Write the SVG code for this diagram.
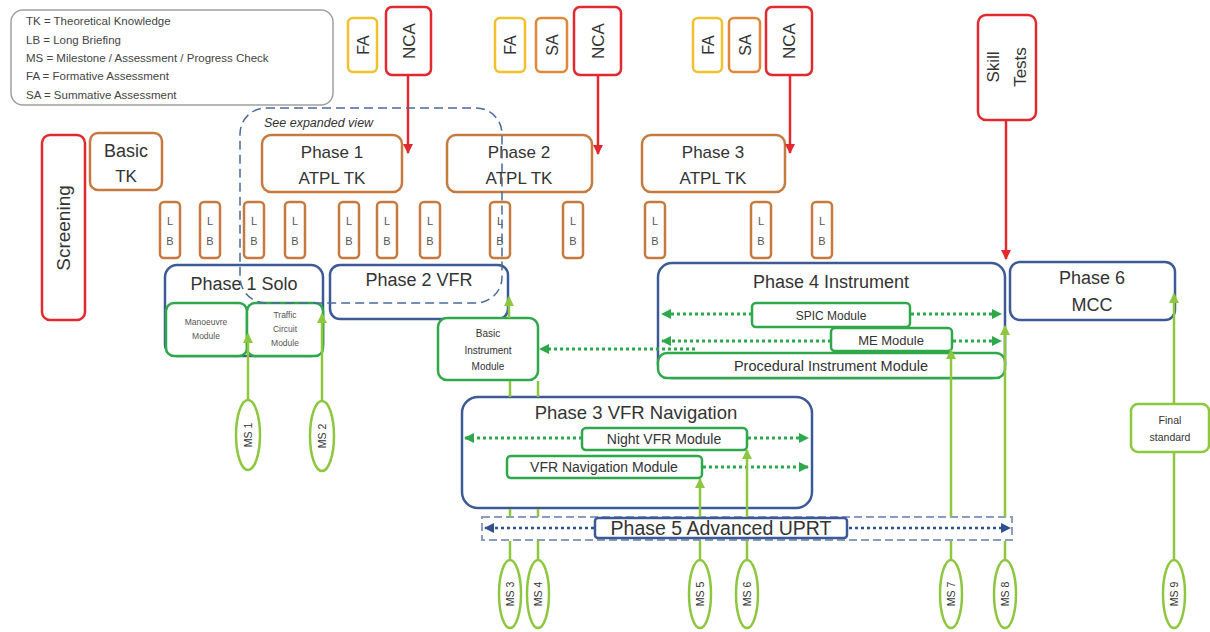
<svg xmlns="http://www.w3.org/2000/svg" width="1210" height="632" viewBox="0 0 1210 632">
<defs>
<style>
text{font-family:"Liberation Sans",Arial,sans-serif;fill:#333;text-anchor:middle}
.legend{font-size:11.5px;text-anchor:start;fill:#444}
.fa{fill:#fff;stroke:#f2c12e;stroke-width:2.5}
.sa{fill:#fff;stroke:#e0883a;stroke-width:2.5}
.red{fill:#fff;stroke:#e02a2f;stroke-width:2.5}
.tk{fill:#fff;stroke:#c57a40;stroke-width:2.5}
.ph{fill:#fff;stroke:#3d5a96;stroke-width:2.5}
.mod{fill:#fff;stroke:#2ea84a;stroke-width:2.5}
.ms{fill:#fff;stroke:#8dc63f;stroke-width:2.5}
.big{font-size:18px}
.lb{font-size:11px;fill:#555}
.sm{font-size:8.5px;fill:#555}
.msl{stroke:#8dc63f;stroke-width:2.5;fill:none}
.rl{stroke:#e02a2f;stroke-width:2.5;fill:none}
.gd{stroke:#2ea84a;stroke-width:3;stroke-dasharray:3 3;fill:none}
.bd{stroke:#2f4f8f;stroke-width:2.5;stroke-dasharray:3 3;fill:none}
</style>
<marker id="ar" viewBox="0 0 10 10" refX="9" refY="5" markerWidth="4" markerHeight="4" orient="auto"><path d="M0,0L10,5L0,10z" fill="#e02a2f"/></marker>
<marker id="ag" viewBox="0 0 10 10" refX="9" refY="5" markerWidth="3.5" markerHeight="3.5" orient="auto"><path d="M0,0L10,5L0,10z" fill="#2ea84a"/></marker>
<marker id="al" viewBox="0 0 10 10" refX="9" refY="5" markerWidth="4" markerHeight="4" orient="auto"><path d="M0,0L10,5L0,10z" fill="#8dc63f"/></marker>
<marker id="ab" viewBox="0 0 10 10" refX="9" refY="5" markerWidth="4" markerHeight="4" orient="auto"><path d="M0,0L10,5L0,10z" fill="#2f4f8f"/></marker>
</defs>
<rect width="1210" height="632" fill="#fff"/>

<g id="legend">
<rect x="11" y="10" width="322" height="95" rx="12" fill="#fff" stroke="#a0a0a0" stroke-width="1.5"/>
<text class="legend" x="26" y="25">TK = Theoretical Knowledge</text>
<text class="legend" x="26" y="44">LB = Long Briefing</text>
<text class="legend" x="26" y="62">MS = Milestone / Assessment / Progress Check</text>
<text class="legend" x="26" y="80">FA = Formative Assessment</text>
<text class="legend" x="26" y="99">SA = Summative Assessment</text>
</g>

<g id="fa1"><rect class="fa" x="348" y="18" width="29" height="54" rx="5"/><text transform="translate(368.5,45) rotate(-90)" font-size="16">FA</text></g>
<g id="nca1"><rect class="red" x="386" y="7" width="45" height="68" rx="6"/><text transform="translate(414.5,41) rotate(-90)" font-size="17">NCA</text></g>
<g id="fa2"><rect class="fa" x="495" y="18" width="30" height="54" rx="5"/><text transform="translate(516,45) rotate(-90)" font-size="16">FA</text></g>
<g id="sa2"><rect class="sa" x="536" y="18" width="31" height="54" rx="5"/><text transform="translate(557.5,45) rotate(-90)" font-size="16">SA</text></g>
<g id="nca2"><rect class="red" x="574" y="7" width="47" height="68" rx="6"/><text transform="translate(603.5,41) rotate(-90)" font-size="17">NCA</text></g>
<g id="fa3"><rect class="fa" x="693" y="18" width="29" height="54" rx="5"/><text transform="translate(713.5,45) rotate(-90)" font-size="16">FA</text></g>
<g id="sa3"><rect class="sa" x="729" y="18" width="31" height="54" rx="5"/><text transform="translate(750.5,45) rotate(-90)" font-size="16">SA</text></g>
<g id="nca3"><rect class="red" x="766" y="7" width="46" height="68" rx="6"/><text transform="translate(795,41) rotate(-90)" font-size="17">NCA</text></g>
<g id="skill"><rect class="red" x="978" y="15" width="58" height="105" rx="8"/><text transform="translate(999,67) rotate(-90)" font-size="17">Skill</text><text transform="translate(1026,67) rotate(-90)" font-size="17">Tests</text></g>

<g id="screening"><rect class="red" x="42" y="135" width="43" height="185" rx="8"/><text transform="translate(70,228) rotate(-90)" font-size="19">Screening</text></g>
<g id="basictk"><rect class="tk" x="90" y="133" width="72" height="57" rx="8"/><text class="big" x="126" y="157" font-size="17">Basic</text><text x="126" y="182" font-size="17">TK</text></g>
<g id="atpl1"><rect class="tk" x="262" y="135" width="140" height="57" rx="9"/><text x="332" y="158" font-size="17">Phase 1</text><text x="332" y="184" font-size="17">ATPL TK</text></g>
<g id="atpl2"><rect class="tk" x="447" y="135" width="145" height="57" rx="9"/><text x="519" y="158" font-size="17">Phase 2</text><text x="519" y="184" font-size="17">ATPL TK</text></g>
<g id="atpl3"><rect class="tk" x="642" y="135" width="143" height="57" rx="9"/><text x="713" y="158" font-size="17">Phase 3</text><text x="713" y="184" font-size="17">ATPL TK</text></g>

<g id="lbs">
<g id="lb1"><rect class="tk" x="160" y="202" width="20" height="56" rx="4"/><text class="lb" x="170" y="225">L</text><text class="lb" x="170" y="245">B</text></g>
<g id="lb2"><rect class="tk" x="200" y="202" width="20" height="56" rx="4"/><text class="lb" x="210" y="225">L</text><text class="lb" x="210" y="245">B</text></g>
<g id="lb3"><rect class="tk" x="244" y="202" width="20" height="56" rx="4"/><text class="lb" x="254" y="225">L</text><text class="lb" x="254" y="245">B</text></g>
<g id="lb4"><rect class="tk" x="285" y="202" width="20" height="56" rx="4"/><text class="lb" x="295" y="225">L</text><text class="lb" x="295" y="245">B</text></g>
<g id="lb5"><rect class="tk" x="339" y="202" width="20" height="56" rx="4"/><text class="lb" x="349" y="225">L</text><text class="lb" x="349" y="245">B</text></g>
<g id="lb6"><rect class="tk" x="377" y="202" width="20" height="56" rx="4"/><text class="lb" x="387" y="225">L</text><text class="lb" x="387" y="245">B</text></g>
<g id="lb7"><rect class="tk" x="420" y="202" width="20" height="56" rx="4"/><text class="lb" x="430" y="225">L</text><text class="lb" x="430" y="245">B</text></g>
<g id="lb8"><rect class="tk" x="490" y="202" width="20" height="56" rx="4"/><text class="lb" x="500" y="225">L</text><text class="lb" x="500" y="245">B</text></g>
<g id="lb9"><rect class="tk" x="563" y="202" width="20" height="56" rx="4"/><text class="lb" x="573" y="225">L</text><text class="lb" x="573" y="245">B</text></g>
<g id="lb10"><rect class="tk" x="645" y="202" width="20" height="56" rx="4"/><text class="lb" x="655" y="225">L</text><text class="lb" x="655" y="245">B</text></g>
<g id="lb11"><rect class="tk" x="751" y="202" width="20" height="56" rx="4"/><text class="lb" x="761" y="225">L</text><text class="lb" x="761" y="245">B</text></g>
<g id="lb12"><rect class="tk" x="812" y="202" width="20" height="56" rx="4"/><text class="lb" x="822" y="225">L</text><text class="lb" x="822" y="245">B</text></g>
</g>

<g id="phase1solo"><rect class="ph" x="165" y="265" width="158" height="91" rx="12"/><text class="big" x="244" y="290">Phase 1 Solo</text></g>
<g id="manoeuvre"><rect class="mod" x="166" y="303" width="81" height="53" rx="8"/><text class="sm" x="206" y="325">Manoeuvre</text><text class="sm" x="206" y="339">Module</text></g>
<g id="traffic"><rect class="mod" x="247" y="303" width="76" height="53" rx="8"/><text class="sm" x="285" y="318">Traffic</text><text class="sm" x="285" y="332">Circuit</text><text class="sm" x="285" y="346">Module</text></g>
<g id="phase2vfr"><rect class="ph" x="330" y="265" width="178" height="54" rx="10"/><text class="big" x="419" y="286">Phase 2 VFR</text></g>
<g id="basicinst"><rect class="mod" x="438" y="318" width="100" height="62" rx="9"/><text font-size="10" fill="#555" x="488" y="337">Basic</text><text font-size="10" fill="#555" x="488" y="354">Instrument</text><text font-size="10" fill="#555" x="488" y="370">Module</text></g>

<g id="phase4"><rect class="ph" x="658" y="263" width="347" height="115" rx="14"/><text class="big" x="831" y="288">Phase 4 Instrument</text></g>
<g id="procedural"><rect class="mod" x="658" y="353" width="347" height="25" rx="9"/><text font-size="14.5" x="831" y="371">Procedural Instrument Module</text></g>
<g id="spic"><rect class="mod" x="752" y="303" width="158" height="24" rx="4"/><text font-size="12" x="831" y="320">SPIC Module</text></g>
<g id="me"><rect class="mod" x="831" y="328" width="121" height="23" rx="4"/><text font-size="13" x="891" y="345">ME Module</text></g>
<g id="phase6"><rect class="ph" x="1010" y="262" width="165" height="58" rx="10"/><text class="big" x="1092" y="284">Phase 6</text><text class="big" x="1092" y="311">MCC</text></g>
<g id="finalstd"><rect class="ms" x="1131" y="404" width="78" height="48" rx="7"/><text font-size="10.5" fill="#555" x="1170" y="424">Final</text><text font-size="10.5" fill="#555" x="1170" y="441">standard</text></g>

<g id="phase3nav"><rect class="ph" x="462" y="397" width="350" height="111" rx="16"/><text font-size="18.5" x="636" y="419">Phase 3 VFR Navigation</text></g>
<g id="nightvfr"><rect class="mod" x="582" y="428" width="165" height="22" rx="4"/><text font-size="14" x="664" y="444">Night VFR Module</text></g>
<g id="vfrnavmod"><rect class="mod" x="507" y="456" width="195" height="22" rx="4"/><text font-size="14" x="604" y="472">VFR Navigation Module</text></g>

<g id="phase5uprt">
<rect x="482" y="517" width="530" height="23" fill="#fff" fill-opacity="0.85" stroke="#8a9cc0" stroke-width="2" stroke-dasharray="8 4"/>
<rect class="ph" x="595" y="518" width="252" height="20" rx="3" stroke-width="2"/>
<text font-size="19.5" x="721" y="535">Phase 5 Advanced UPRT</text>
</g>

<g id="milestones">
<g id="ms1"><ellipse class="ms" cx="248" cy="435" rx="12" ry="35"/><text transform="translate(252,435) rotate(-90)" font-size="10.5">MS 1</text></g>
<g id="ms2"><ellipse class="ms" cx="322" cy="436" rx="12" ry="35"/><text transform="translate(326,436) rotate(-90)" font-size="10.5">MS 2</text></g>
<g id="ms3"><ellipse class="ms" cx="510" cy="594" rx="11" ry="34"/><text transform="translate(514,594) rotate(-90)" font-size="10.5">MS 3</text></g>
<g id="ms4"><ellipse class="ms" cx="538" cy="594" rx="11" ry="34"/><text transform="translate(542,594) rotate(-90)" font-size="10.5">MS 4</text></g>
<g id="ms5"><ellipse class="ms" cx="700" cy="594" rx="11" ry="34"/><text transform="translate(704,594) rotate(-90)" font-size="10.5">MS 5</text></g>
<g id="ms6"><ellipse class="ms" cx="747" cy="594" rx="11" ry="34"/><text transform="translate(751,594) rotate(-90)" font-size="10.5">MS 6</text></g>
<g id="ms7"><ellipse class="ms" cx="951" cy="594" rx="11" ry="34"/><text transform="translate(955,594) rotate(-90)" font-size="10.5">MS 7</text></g>
<g id="ms8"><ellipse class="ms" cx="1005" cy="594" rx="11" ry="34"/><text transform="translate(1009,594) rotate(-90)" font-size="10.5">MS 8</text></g>
<g id="ms9"><ellipse class="ms" cx="1174" cy="594" rx="11" ry="34"/><text transform="translate(1178,594) rotate(-90)" font-size="10.5">MS 9</text></g>
</g>

<g id="connectors">
<line class="rl" x1="408" y1="75" x2="408" y2="153" marker-end="url(#ar)"/>
<line class="rl" x1="598" y1="75" x2="598" y2="154" marker-end="url(#ar)"/>
<line class="rl" x1="790" y1="75" x2="790" y2="153" marker-end="url(#ar)"/>
<line class="rl" x1="1006" y1="120" x2="1006" y2="259" marker-end="url(#ar)"/>

<line class="gd" x1="752" y1="314" x2="662" y2="314" marker-end="url(#ag)"/>
<line class="gd" x1="911" y1="314" x2="1001" y2="314" marker-end="url(#ag)"/>
<line class="gd" x1="831" y1="341" x2="662" y2="341" marker-end="url(#ag)"/>
<line class="gd" x1="953" y1="341" x2="1001" y2="341" marker-end="url(#ag)"/>
<line class="gd" x1="695" y1="349" x2="540" y2="349" marker-end="url(#ag)"/>
<line class="gd" x1="582" y1="438" x2="465" y2="438" marker-end="url(#ag)"/>
<line class="gd" x1="748" y1="438" x2="808" y2="438" marker-end="url(#ag)"/>
<line class="gd" x1="703" y1="467" x2="808" y2="467" marker-end="url(#ag)"/>

<line class="bd" x1="594" y1="528" x2="485" y2="528" marker-end="url(#ab)"/>
<line class="bd" x1="849" y1="528" x2="1010" y2="528" marker-end="url(#ab)"/>

<line class="msl" x1="248" y1="400" x2="248" y2="334" marker-end="url(#al)"/>
<line class="msl" x1="322" y1="401" x2="322" y2="314" marker-end="url(#al)"/>
<path class="msl" d="M510,560V541M510,517V509M510,397V381"/>
<line class="msl" x1="509" y1="318" x2="509" y2="297" marker-end="url(#al)"/>
<path class="msl" d="M538,560V541M538,517V509M538,397V381"/>
<path class="msl" d="M700,560V541"/>
<line class="msl" x1="700" y1="517" x2="700" y2="479" marker-end="url(#al)"/>
<path class="msl" d="M747,560V541"/>
<line class="msl" x1="747" y1="517" x2="747" y2="450" marker-end="url(#al)"/>
<path class="msl" d="M951,560V541"/>
<line class="msl" x1="951" y1="517" x2="951" y2="350" marker-end="url(#al)"/>
<path class="msl" d="M1005,560V541"/>
<line class="msl" x1="1005" y1="517" x2="1005" y2="326" marker-end="url(#al)"/>
<path class="msl" d="M1174,560V453"/>
<line class="msl" x1="1174" y1="404" x2="1174" y2="294" marker-end="url(#al)"/>
</g>

<g id="expanded-view">
<rect x="240" y="108" width="262" height="195" rx="26" fill="none" stroke="#4a6a9a" stroke-width="1.5" stroke-dasharray="9 5"/>
<text x="264" y="127" font-size="12.5" font-style="italic" style="text-anchor:start" fill="#333">See expanded view</text>
</g>
</svg>
